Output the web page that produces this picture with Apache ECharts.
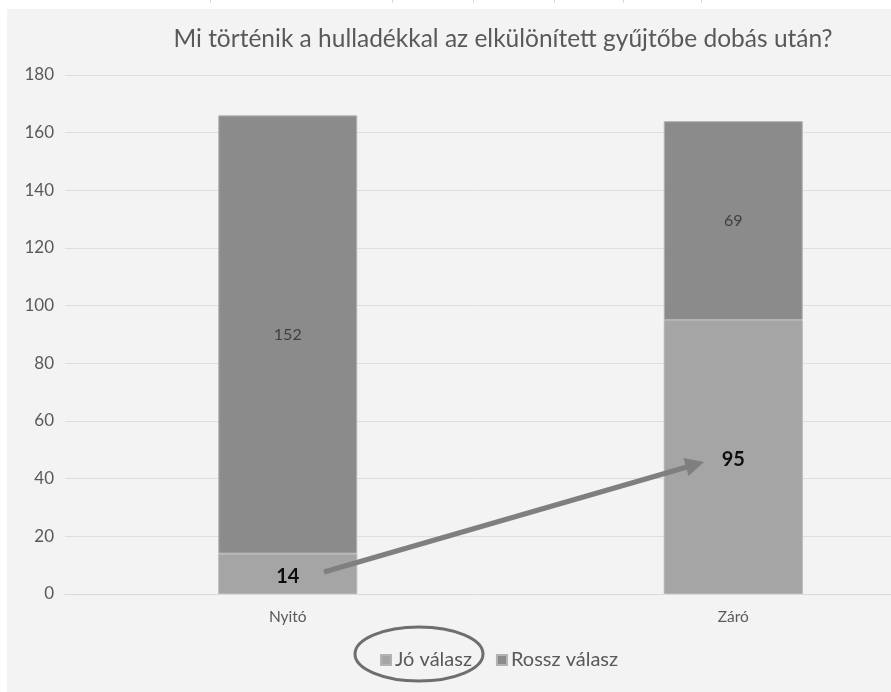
<!DOCTYPE html>
<html>
<head>
<meta charset="utf-8">
<script src="https://cdn.jsdelivr.net/npm/echarts@6/dist/echarts.min.js"></script>
<style>
  html, body { margin: 0; padding: 0; background: #ffffff; }
  #panel { position: absolute; left: 7px; top: 9px; width: 884px; height: 683px; background: #f3f3f3; }
  #chart { position: absolute; left: 0; top: 0; width: 891px; height: 692px; }
</style>
</head>
<body>
<div id="panel"></div>
<div id="chart"></div>
<script>
// Survey answers before (Nyitó) and after (Záró) the programme
const categories = ['Nyitó', 'Záró'];
const goodAnswers = [14, 95];    // Jó válasz
const badAnswers = [152, 69];    // Rossz válasz
const yTicks = { min: 0, max: 180, interval: 20 };

const FONT = 'Lato, "Noto Sans", sans-serif';

const chart = echarts.init(document.getElementById('chart'), null, { renderer: 'canvas' });

// faint table borders peeking in above the chart panel
const topMarks = [210, 392, 473, 554, 623, 701].map(x => ({
  type: 'line', silent: true,
  shape: { x1: x + 0.5, y1: 0, x2: x + 0.5, y2: 3 },
  style: { stroke: '#dadada', lineWidth: 1 }
}));

chart.setOption({
  backgroundColor: 'transparent',
  animation: false,
  title: {
    text: 'Mi történik a hulladékkal az elkülönített gyűjtőbe dobás után?',
    left: 498, top: 22, textAlign: 'center',
    textStyle: { fontFamily: FONT, fontSize: 24.5, fontWeight: 'normal', color: '#595959' }
  },
  legend: {
    left: 375, top: 645,
    icon: 'rect', itemWidth: 10, itemHeight: 10, itemGap: 24,
    textStyle: { fontFamily: FONT, fontSize: 20, color: '#595959', padding: [0, 0, 0, -1] },
    data: ['Jó válasz', 'Rossz válasz']
  },
  grid: { left: 65, top: 75, width: 891, height: 519, containLabel: false, outerBoundsMode: 'none' },
  xAxis: {
    type: 'category', data: categories,
    axisLine: { show: true, lineStyle: { color: '#d9d9d9', width: 1 } },
    axisTick: { show: false },
    axisLabel: { fontFamily: FONT, fontSize: 15.5, color: '#595959', margin: 15 }
  },
  yAxis: {
    type: 'value', min: yTicks.min, max: yTicks.max, interval: yTicks.interval,
    axisLine: { show: false }, axisTick: { show: false },
    axisLabel: { fontFamily: FONT, fontSize: 17, color: '#595959', margin: 11 },
    splitLine: { lineStyle: { color: '#dedede', width: 1 } }
  },
  series: [
    {
      name: 'Jó válasz', type: 'bar', stack: 'total', barWidth: 139,
      data: goodAnswers,
      itemStyle: { color: '#a5a5a5', borderColor: '#b3b3b3', borderWidth: 1 },
      label: { show: true, position: 'inside', offset: [0, 3], fontFamily: FONT, fontSize: 20, fontWeight: 'bold', color: '#0d0d0d' }
    },
    {
      name: 'Rossz válasz', type: 'bar', stack: 'total', barWidth: 139,
      data: badAnswers,
      itemStyle: { color: '#8b8b8b', borderColor: '#b3b3b3', borderWidth: 1 },
      label: { show: true, position: 'inside', fontFamily: FONT, fontSize: 16, color: '#404040' }
    }
  ],
  graphic: topMarks.concat([
    // arrow from the starting share to the final share
    {
      type: 'line', silent: true, z: 100,
      shape: { x1: 324, y1: 572, x2: 687, y2: 467 },
      style: { stroke: '#7f7f7f', lineWidth: 5 }
    },
    {
      type: 'polygon', silent: true, z: 100,
      shape: { points: [[704, 462], [688.5, 476], [683.5, 458]] },
      style: { fill: '#7f7f7f' }
    },
    // ring around the "Jó válasz" legend entry
    {
      type: 'ellipse', silent: true, z: 100,
      shape: { cx: 419, cy: 654, rx: 64, ry: 27 },
      style: { fill: 'none', stroke: '#6e6e6e', lineWidth: 3 }
    }
  ])
});
</script>
</body>
</html>
